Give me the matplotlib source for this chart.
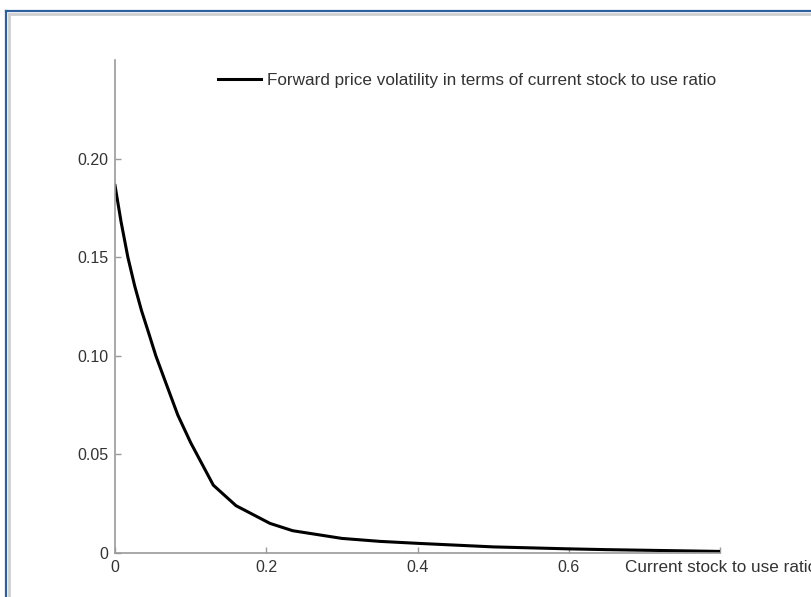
import matplotlib
matplotlib.use("Agg")
import matplotlib.pyplot as plt
from matplotlib.lines import Line2D
from matplotlib.transforms import blended_transform_factory
from matplotlib.ticker import FixedLocator

plt.rcParams['font.family'] = ['Liberation Sans', 'DejaVu Sans']

# Data
stock_to_use = [0.0, 0.008, 0.017, 0.026, 0.035, 0.045, 0.054, 0.067, 0.083, 0.10,
                0.130, 0.160, 0.205, 0.235, 0.30, 0.35, 0.40, 0.45, 0.50, 0.55,
                0.60, 0.65, 0.70, 0.75, 0.80]
volatility = [0.1864, 0.1680, 0.1500, 0.1355, 0.1230, 0.1110, 0.1000, 0.0865, 0.0700,
              0.0560, 0.0344, 0.0240, 0.0150, 0.0113, 0.0074, 0.0059, 0.0049, 0.0040,
              0.0031, 0.0026, 0.0021, 0.0017, 0.0014, 0.0011, 0.0008]
series_label = "Forward price volatility in terms of current stock to use ratio"
x_label = "Current stock to use ratio"
x_ticks = [0.0, 0.2, 0.4, 0.6, 0.8]
x_tick_labels = ["0", "0.2", "0.4", "0.6", ""]
y_ticks = [0.0, 0.05, 0.10, 0.15, 0.20]
y_tick_labels = ["0", "0.05", "0.10", "0.15", "0.20"]

W, H = 811, 597
fig = plt.figure(figsize=(W / 100, H / 100), dpi=100)
fig.patch.set_facecolor('white')

# outer frame (window border)
fig.add_artist(Line2D([5.5 / W, 1.0], [1 - 10.5 / H, 1 - 10.5 / H], color='#2d5f9c', lw=1.6))
fig.add_artist(Line2D([5.5 / W, 5.5 / W], [0, 1 - 10.5 / H], color='#2d5f9c', lw=1.6))
fig.add_artist(Line2D([9 / W, 1.0], [1 - 14 / H, 1 - 14 / H], color='#cfcfcf', lw=2.0))
fig.add_artist(Line2D([9 / W, 9 / W], [0, 1 - 14 / H], color='#cfcfcf', lw=2.0))

ax = fig.add_axes([115 / W, (H - 553) / H, (720 - 115) / W, (553 - 60) / H])
ax.plot(stock_to_use, volatility, color='black', lw=2.2, label=series_label,
        solid_joinstyle='round')

ax.set_xlim(0, 0.8)
ax.set_ylim(0, 0.25)
ax.xaxis.set_major_locator(FixedLocator(x_ticks))
ax.set_xticklabels(x_tick_labels)
ax.yaxis.set_major_locator(FixedLocator(y_ticks))
ax.set_yticklabels(y_tick_labels)

for s in ['top', 'right']:
    ax.spines[s].set_visible(False)
for s in ['left', 'bottom']:
    ax.spines[s].set_color('#9a9a9a')
    ax.spines[s].set_linewidth(1.2)
ax.tick_params(direction='in', length=4, width=1.0, color='#9a9a9a',
               labelsize=11.5, labelcolor='#333333', pad=5)

trans = blended_transform_factory(ax.transData, ax.transAxes)
ax.text((626 - 115) / 757.5, -14 / 493, x_label, transform=trans,
        ha='left', va='center', fontsize=12.3, color='#333333', clip_on=False)

leg = ax.legend(loc='center left', bbox_to_anchor=(218 / W, 1 - 80 / H),
                bbox_transform=fig.transFigure, frameon=False, fontsize=12.3,
                handlelength=2.5, handletextpad=0.35, borderpad=0, borderaxespad=0)
for t in leg.get_texts():
    t.set_color('#333333')

fig.savefig('out.png', dpi=100, facecolor='white')
